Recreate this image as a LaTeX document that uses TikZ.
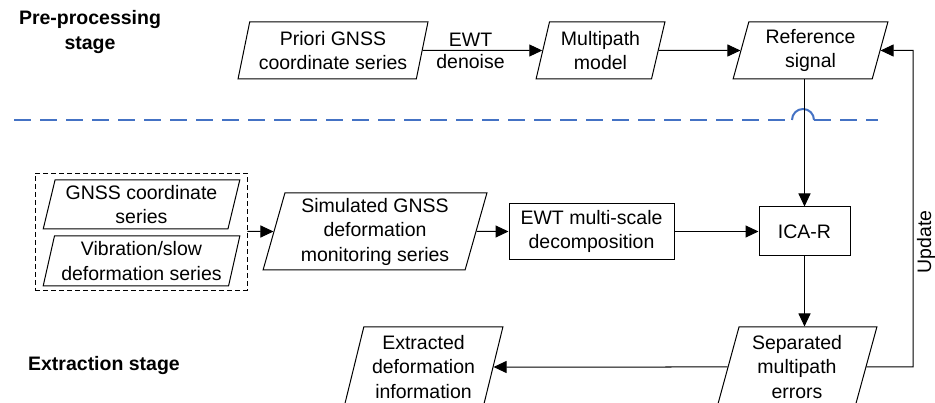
\documentclass[tikz,border=0pt]{standalone}
\usepackage{fontspec}
\setmainfont{Liberation Sans}
\usetikzlibrary{shapes.geometric, positioning, arrows.meta, calc}

\definecolor{sepblue}{RGB}{68,114,196}

\begin{document}
\begin{tikzpicture}[
    x=1pt, y=-1pt,
    line width=1pt,
    font=\fontsize{19.5}{24.5}\selectfont,
    data/.style={trapezium, trapezium left angle=75, trapezium right angle=105,
        trapezium stretches=true, draw, inner sep=0pt, align=center},
    process/.style={rectangle, draw, inner sep=0pt, align=center},
    arrow/.style={-{Triangle[length=13pt, width=12pt]}},
    stage/.style={font=\fontsize{19.5}{24.5}\selectfont\bfseries, align=center},
    divider/.style={draw=sepblue, line width=2pt, dash pattern=on 17pt off 9pt}
]
    \useasboundingbox (0,0) rectangle (935,403);

    % Stage titles
    \node[stage] (pretitle) at (90,32) {Pre-processing\\stage};
    \node[stage] (extitle) at (104,366) {Extraction stage};

    % Pre-processing stage
    \node[data, minimum width=190pt, minimum height=57pt] (priori) at (333,50.5) {Priori GNSS\\coordinate series};
    \node[data, minimum width=129pt, minimum height=57pt] (multipath) at (600.5,50.5) {Multipath\\model};
    \node[data, minimum width=155pt, minimum height=57pt] (refsig) at (810.5,50.5) {Reference\\signal};

    \draw[arrow] (priori.east) -- (multipath.west)
        node[pos=0.4, above] {EWT} node[pos=0.4, below] {denoise};
    \draw[arrow] (multipath.east) -- (refsig.west);

    % Separator between the stages
    \draw[divider] (14,120) -- (792,120);
    \draw[sepblue, line width=2pt] (792,120) arc[start angle=180, end angle=360, radius=11];
    \draw[divider] (814,120) -- (878,120);

    % Extraction stage
    \node[draw, dash pattern=on 5pt off 3pt, line width=0.9pt, minimum width=212pt, minimum height=117pt] (group) at (141,231.5) {};
    \node[data, minimum width=197pt, minimum height=49pt] (gnss) at (141.5,204.5) {GNSS coordinate\\series};
    \node[data, minimum width=197pt, minimum height=50pt] (vib) at (141.5,261) {Vibration/slow\\deformation series};
    \node[data, minimum width=224pt, minimum height=77pt] (sim) at (375,231.5) {Simulated GNSS\\deformation\\monitoring series};
    \node[process, minimum width=165pt, minimum height=56pt] (ewt) at (591.5,231.5) {EWT multi-scale\\decomposition};
    \node[process, minimum width=91pt, minimum height=49pt] (icar) at (804.5,231.5) {ICA-R};
    \node[data, minimum width=160pt, minimum height=80pt] (sep) at (797,367) {Separated\\multipath\\errors};
    \node[data, minimum width=159pt, minimum height=80pt] (extr) at (423.5,367) {Extracted\\deformation\\information};

    \draw[arrow] (group.east) -- (sim.west);
    \draw[arrow] (sim.east) -- (ewt.west);
    \draw[arrow] (ewt.east) -- (icar.west);
    \draw[arrow] (refsig.south -| icar.north) -- (icar.north);
    \draw[arrow] (icar.south) -- (sep.north -| icar.south);
    \draw[arrow] (sep.west) -- (extr.east);

    % Update loop
    \coordinate (updcorner) at (913,50.5);
    \draw[arrow] (sep.east) -| (updcorner) -- (refsig.east);
    \node[rotate=90] (updlabel) at (926,242) {Update};
\end{tikzpicture}
\end{document}
